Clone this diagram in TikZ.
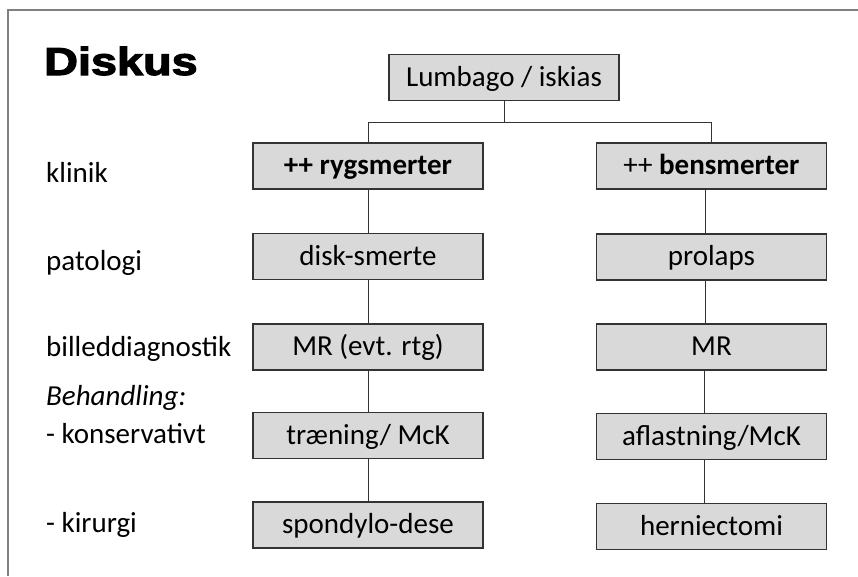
\documentclass[tikz,border=0pt]{standalone}
\usepackage{fontspec}
\setmainfont{Carlito}
\newfontfamily\titlefont[FakeBold=2.8]{Liberation Sans Bold}
\begin{document}
\begin{tikzpicture}[x=1pt,y=-1pt,
  box/.style={draw=black!80, line width=1.3pt, fill=black!15, minimum width=230pt, minimum height=46pt, inner sep=0pt, text height=22pt, text depth=5pt, anchor=center, font=\fontsize{29}{30}\selectfont},
  lab/.style={anchor=base west, inner sep=0pt, font=\fontsize{29}{30}\selectfont},
  conn/.style={draw=black!80, line width=0.9pt}]
\useasboundingbox (0,0) rectangle (858,576);
\draw[black!50, line width=1.2pt] (858,10) -- (8,10) -- (8,576);
\node[anchor=base west, inner sep=0pt] (title) at (44,75) {\scalebox{1.2}[1]{\titlefont\fontsize{39}{40}\selectfont Diskus}};
\node[box] (top) at (504,77.5) {Lumbago / iskias};
\node[box] (l1) at (368,166) {\bfseries ++ rygsmerter};
\node[box] (r1) at (711.5,166) {++ \bfseries bensmerter};
\node[box] (l2) at (368,256.5) {disk-smerte};
\node[box] (r2) at (711.5,257) {prolaps};
\node[box] (l3) at (368,347) {MR (evt. rtg)};
\node[box] (r3) at (711.5,347) {MR};
\node[box] (l4) at (368,435.5) {træning/ McK};
\node[box] (r4) at (711.5,436.5) {aflastning/McK};
\node[box] (l5) at (368,525) {spondylo-dese};
\node[box] (r5) at (711.5,526.5) {herniectomi};
\node[lab] (k) at (46,182) {klinik};
\node[lab] (p) at (46,270.5) {patologi};
\node[lab] (b) at (46,356) {billeddiagnostik};
\node[lab] (beh) at (46,405) {\itshape Behandling:};
\node[lab] (kons) at (46,443) {- konservativt};
\node[lab] (kir) at (46,532) {- kirurgi};
\coordinate (mid) at (504,122);
\draw[conn] (top.south) -- (mid) -- (mid -| l1.north) -- (l1.north);
\draw[conn] (mid) -- (mid -| r1.north) -- (r1.north);
\draw[conn] (l1) -- (l2);
\draw[conn] (l2) -- (l3);
\draw[conn] (l3) -- (l4);
\draw[conn] (l4) -- (l5);
\draw[conn] ([xshift=-6pt]r1.south) -- ([xshift=-6pt]r2.north);
\draw[conn] ([xshift=-6pt]r2.south) -- ([xshift=-6pt]r3.north);
\draw[conn] ([xshift=-7pt]r3.south) -- ([xshift=-7pt]r4.north);
\draw[conn] ([xshift=-7pt]r4.south) -- ([xshift=-7pt]r5.north);
\end{tikzpicture}
\end{document}
